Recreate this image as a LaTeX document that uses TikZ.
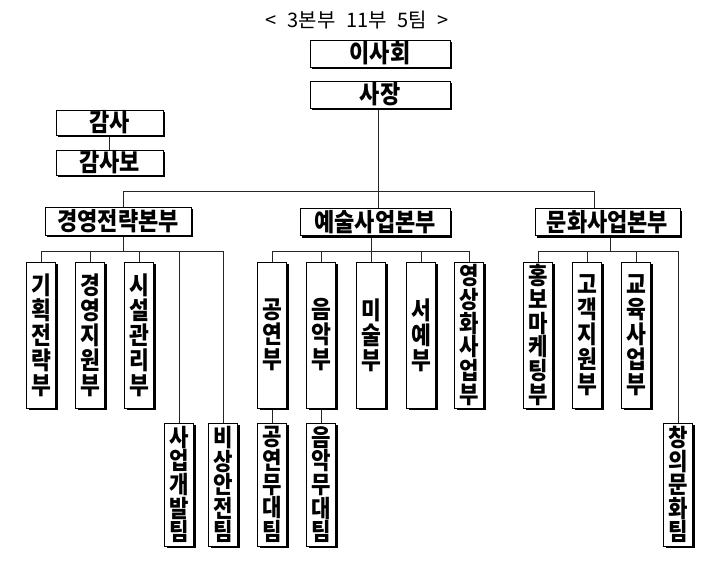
\documentclass[tikz,border=0pt]{standalone}
\usepackage{fontspec}
\setmainfont{Noto Sans CJK KR}
\newfontfamily\boxfont{Noto Sans CJK KR}[FakeStretch=0.88]
\usetikzlibrary{shadows,calc}
\pgfdeclarelayer{background}
\pgfsetlayers{background,main}
\begin{document}
\begin{tikzpicture}[x=1pt,y=-1pt,
  conn/.style={draw=black!85, line width=0.8pt},
  box/.style={draw=black, line width=0.9pt, fill=white, inner sep=0pt,
    drop shadow={shadow xshift=2.2pt, shadow yshift=-2.2pt, opacity=1, fill=black}},
  hbox/.style={box, minimum height=27pt, font=\boxfont\fontsize{25}{26}\selectfont\bfseries},
  vbox/.style={box, minimum width=29pt, align=center, font=\boxfont\fontsize{24.5}{25}\selectfont\bfseries},
  vtop/.style={vbox, minimum height=146pt},
  vlow/.style={vbox, minimum height=123pt, font=\boxfont\fontsize{24}{23.6}\selectfont\bfseries},
  vsix/.style={vtop, font=\boxfont\fontsize{24}{23.8}\selectfont\bfseries},
  title/.style={inner sep=0pt, font=\fontsize{20}{22}\selectfont}
]
\useasboundingbox (0,0) rectangle (720,562);

\node[title] (t) at (357,20) {<\hspace{11pt}3본부\hspace{11pt}11부\hspace{10pt}5팀\hspace{11pt}>};

\node[hbox, minimum width=140pt] (isa) at (380,53.5) {이사회};
\node[hbox, minimum width=140pt] (sj) at (380,94.5) {사장};
\node[hbox, minimum width=107pt, minimum height=25pt] (gs) at (109.5,122.5) {감사};
\node[hbox, minimum width=107pt, minimum height=25pt] (gsb) at (109.5,162.5) {감사보};

\node[hbox, minimum width=146pt, minimum height=28pt] (gy) at (118,221) {경영전략본부};
\node[hbox, minimum width=150pt] (ys) at (375,222) {예술사업본부};
\node[hbox, minimum width=145pt] (mh) at (607.5,222) {문화사업본부};

% left group
\node[vtop] (a1) at (41,335) {기\\획\\전\\략\\부};
\node[vtop] (a2) at (90,335) {경\\영\\지\\원\\부};
\node[vtop] (a3) at (139,335) {시\\설\\관\\리\\부};
\node[vlow] (a4) at (179,484.5) {사\\업\\개\\발\\팀};
\node[vlow] (a5) at (223,484.5) {비\\상\\안\\전\\팀};

% middle group
\node[vtop] (b1) at (272,335) {공\\연\\부};
\node[vtop] (b2) at (321,335) {음\\악\\부};
\node[vtop] (b3) at (371,335) {미\\술\\부};
\node[vtop] (b4) at (421,335) {서\\예\\부};
\node[vsix] (b5) at (469,335) {영\\상\\화\\사\\업\\부};
\node[vlow] (b6) at (272,484.5) {공\\연\\무\\대\\팀};
\node[vlow] (b7) at (321,484.5) {음\\악\\무\\대\\팀};

% right group
\node[vsix] (c1) at (538,335) {홍\\보\\마\\케\\팅\\부};
\node[vtop] (c2) at (587,335) {고\\객\\지\\원\\부};
\node[vtop] (c3) at (636,335) {교\\육\\사\\업\\부};
\node[vlow] (c4) at (678,484.5) {창\\의\\문\\화\\팀};

\coordinate (bus0) at (0,191);
\coordinate (bus1) at (0,251);

\begin{pgfonlayer}{background}
\draw[conn] (gs.south) -- (gsb.north);
\draw[conn] ([xshift=-2pt]sj.south) -- ([xshift=-2pt]sj.south |- bus0);
\draw[conn] ([xshift=5pt]gy.north |- bus0) -- ([xshift=-13.5pt]mh.north |- bus0);
\draw[conn] ([xshift=5pt]gy.north) -- ([xshift=5pt]gy.north |- bus0);
\draw[conn] ([xshift=3pt]ys.north) -- ([xshift=3pt]ys.north |- bus0);
\draw[conn] ([xshift=-13.5pt]mh.north) -- ([xshift=-13.5pt]mh.north |- bus0);

% left sub-bus
\draw[conn] ([xshift=5pt]gy.south) -- ([xshift=5pt]gy.south |- bus1);
\draw[conn] (a1.north |- bus1) -- (a5.north |- bus1);
\foreach \n in {a1,a2,a3,a4,a5} \draw[conn] (\n.north) -- (\n.north |- bus1);

% middle sub-bus
\draw[conn] ([xshift=-4pt]ys.south) -- ([xshift=-4pt]ys.south |- bus1);
\draw[conn] (b1.north |- bus1) -- (b5.north |- bus1);
\foreach \n in {b1,b2,b3,b4,b5} \draw[conn] (\n.north) -- (\n.north |- bus1);
\draw[conn] (b1.south) -- (b6.north);
\draw[conn] (b2.south) -- (b7.north);

% right sub-bus
\draw[conn] ([xshift=2.5pt]mh.south) -- ([xshift=2.5pt]mh.south |- bus1);
\draw[conn] (c1.north |- bus1) -- (c4.north |- bus1);
\foreach \n in {c1,c2,c3,c4} \draw[conn] (\n.north) -- (\n.north |- bus1);
\end{pgfonlayer}
\end{tikzpicture}
\end{document}
